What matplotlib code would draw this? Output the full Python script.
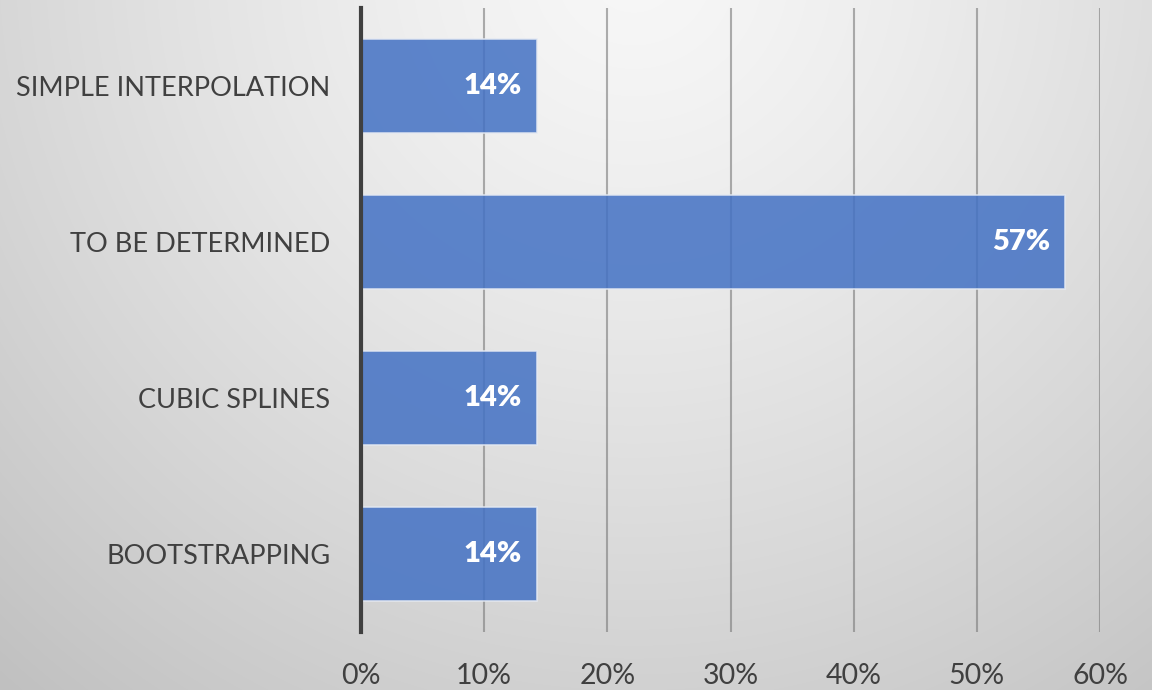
import numpy as np
import matplotlib.pyplot as plt
from matplotlib.colors import LinearSegmentedColormap

plt.rcParams['font.family'] = ['Lato', 'DejaVu Sans']

# survey shares, bottom to top
methods = ["BOOTSTRAPPING", "CUBIC SPLINES", "TO BE DETERMINED", "SIMPLE INTERPOLATION"]
shares = [1 / 7, 1 / 7, 4 / 7, 1 / 7]
xticks = [0, 0.1, 0.2, 0.3, 0.4, 0.5, 0.6]

fig = plt.figure(figsize=(11.52, 6.9), dpi=100)

# radial grey background, light near the top centre
bg = fig.add_axes([0, 0, 1, 1], zorder=-10)
w, h = 1152, 690
xx, yy = np.meshgrid(np.arange(w), np.arange(h))
d = np.hypot(xx - 0.55 * w, yy + 0.05 * h) / 962.0
shade = np.clip(d, 0, 1.1) ** 1.3
cmap = LinearSegmentedColormap.from_list("bg", ["#f7f7f7", "#c0c0c0"])
bg.imshow(shade, cmap=cmap, vmin=0, vmax=1, aspect="auto", interpolation="bilinear")
bg.axis("off")

ax = fig.add_axes([361 / w, 1 - 632 / h, (1100 - 361) / w, 624 / h])
ax.patch.set_alpha(0)

y = np.arange(len(methods))
ax.barh(y, shares, height=0.6, color="#4472C4", alpha=0.86,
        edgecolor="#e4e9f2", linewidth=1.2, zorder=3)

for yi, v in zip(y, shares):
    ax.text(v - 0.012, yi, f"{v * 100:.0f}%", ha="right", va="center",
            color="white", fontsize=21, fontweight="heavy", zorder=4)

ax.set_xlim(0, 0.6)
ax.set_ylim(-0.5, 3.5)
ax.set_xticks(xticks)
ax.set_xticklabels([f"{t * 100:.0f}%" for t in xticks])
ax.set_yticks(y)
ax.set_yticklabels(methods)

ax.grid(axis="x", color="#7a7a7a", alpha=0.6, linewidth=1.5, zorder=1)
ax.tick_params(axis="x", length=0, pad=22, labelsize=20.5, labelcolor="#404040")
ax.tick_params(axis="y", length=0, pad=22, labelsize=19.5, labelcolor="#404040")

for side in ["top", "right", "bottom"]:
    ax.spines[side].set_visible(False)
ax.spines["left"].set_color("#404040")
ax.spines["left"].set_linewidth(3)
ax.spines["left"].set_zorder(5)

fig.savefig("out.png", dpi=100)
